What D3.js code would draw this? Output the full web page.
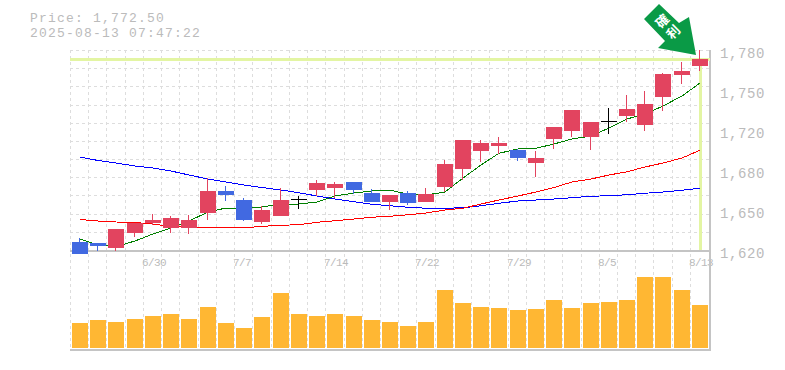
<!DOCTYPE html>
<html>
<head>
<meta charset="utf-8">
<script src="https://d3js.org/d3.v7.min.js"></script>
<style>
body{margin:0;background:#fff;}
text{font-family:"Liberation Mono",monospace;fill:#bbb;}
</style>
</head>
<body>
  <div id="my_dataviz"></div>
  <script>
    var opens  = [1626.4,1625.6,1621.6,1633.6,1641.6,1637.6,1637.6,1649.6,1667.2,1660,1642.4,1647.2,1660.8,1668,1669.6,1674.4,1665.6,1658.4,1665.6,1658.4,1670.4,1684.8,1699.2,1703.2,1700,1689.6,1708.8,1715.2,1710.4,1723.2,1727.2,1720,1742.4,1760,1767.2];
    var highs  = [1629.6,1625.6,1636.8,1641.6,1648.8,1647.2,1648,1677.6,1671.2,1661.6,1655.2,1669.6,1663.2,1676,1674.4,1674.4,1668.8,1664,1667.2,1669.6,1692,1708,1708,1710.4,1700.8,1699.2,1718.4,1732,1722.4,1733.6,1744,1747.2,1761.6,1770.4,1780];
    var lows   = [1616.8,1619.2,1619.2,1630.4,1640,1633.6,1632.8,1644,1659.2,1643.2,1640.8,1647.2,1652.8,1663.2,1661.6,1664.8,1658.4,1652,1656,1658.4,1666.4,1676,1690.4,1696.8,1691.2,1678.4,1700.8,1710.4,1700,1712.8,1722.4,1715.2,1731.2,1752.8,1763.2];
    var closes = [1616.8,1623.2,1636.8,1641.6,1644,1645.6,1644,1667.2,1664,1644,1652,1660,1660.8,1673.6,1672.8,1668,1658.4,1664,1657.6,1664.8,1688.8,1708,1705.6,1705.6,1693.6,1693.6,1718.4,1732,1722.4,1723.2,1732.8,1736.8,1760.8,1763.2,1772.5];
    var volumes = [25,28,26,29,32,34,29,41,25,20,31,55,34,32,34,32,28,26,22,26,58,45,41,40,38,39,48,40,45,46,48,71,71,58,43];

    var maShort = [1628.8,1624,1622.8,1627.2,1632.8,1637.6,1643.2,1650.4,1653.6,1653.6,1654.4,1656.8,1656.8,1658.4,1663.2,1665.6,1667.2,1667.8,1664.8,1664,1666.4,1677.6,1688,1697.4,1700.8,1701.4,1704.8,1708.8,1711.2,1717.6,1724.8,1728.8,1735.2,1743.2,1753.6];
    var maMid   = [1644.4,1643.2,1642.4,1642,1640.8,1638.6,1638.4,1637.8,1637.8,1637.8,1638.9,1639.8,1640.2,1642.2,1643.4,1644.8,1646.2,1647,1648.2,1649.6,1652,1653.4,1656.8,1660,1663.2,1666.4,1670,1674.4,1676.8,1680,1682.6,1686.4,1689.6,1693.6,1699.8];
    var maLong  = [1694.4,1691.6,1689.6,1687.2,1685.6,1683.2,1680,1676.8,1674.4,1672,1670,1668,1665.8,1663.2,1660.8,1658.6,1656.6,1655.4,1654.2,1653.4,1653.4,1653.8,1655.4,1657.4,1659.2,1660,1660.8,1661.8,1663,1663.4,1664.2,1665.4,1666.4,1667.8,1669.4];

    var priceTicks = [1620,1652,1684,1716,1748,1780];
    var dateLabels = [[4,"6/30"],[9,"7/7"],[14,"7/14"],[19,"7/22"],[24,"7/29"],[29,"8/5"],[34,"8/13"]];
    var lastPrice = 1772.5;
    var headerLines = ["Price: 1,772.50","2025-08-13 07:47:22"];
    var arrowChars = ["確","利"];

    var width = 785, height = 370;
    var left = 70, right = 710, top_ = 50, mid = 250, volBase = 348, bottom = 350;
    var barW = 16;

    var svg = d3.select("#my_dataviz")
      .append("svg")
      .attr("width", width)
      .attr("height", height)
      .style("display","block");

    // x is the left edge of a slot, the bar sits 2px inside it
    var x = d3.scaleLinear().domain([0,35]).range([left,708.2]);
    var y = d3.scaleLinear().domain([1620,1780]).range([mid,top_]);
    var yVol = d3.scaleLinear().domain([0,100]).range([volBase,volBase-100]);
    function cx(i){ return Math.round(x(i))+10; }

    var grid = svg.append("g")
      .attr("shape-rendering","crispEdges")
      .attr("stroke","#ddd")
      .attr("stroke-dasharray","3,3");

    grid.selectAll(".vg").data(d3.range(0,35)).enter().append("line")
      .attr("x1",function(d){return Math.round(x(d))+0.5;})
      .attr("x2",function(d){return Math.round(x(d))+0.5;})
      .attr("y1",top_).attr("y2",bottom);

    grid.selectAll(".hg").data(d3.range(0,11)).enter().append("line")
      .attr("x1",left).attr("x2",right)
      .attr("y1",function(d){return Math.round(top_+d*200/11)+0.5;})
      .attr("y2",function(d){return Math.round(top_+d*200/11)+0.5;});

    // date labels
    svg.append("g").selectAll("text").data(dateLabels).enter().append("text")
      .attr("x",function(d){return cx(d[0])-11;})
      .attr("y",266)
      .attr("font-size",11)
      .attr("letter-spacing",-0.6)
      .text(function(d){return d[1];});

    // volume
    svg.append("g").attr("shape-rendering","crispEdges")
      .selectAll("rect").data(volumes).enter().append("rect")
      .attr("x",function(d,i){return cx(i)-barW/2;})
      .attr("width",barW)
      .attr("y",function(d){return yVol(d);})
      .attr("height",function(d){return volBase-yVol(d);})
      .attr("fill","#ffb733");

    // frame
    var frame = svg.append("g").attr("shape-rendering","crispEdges").attr("stroke","#c4c4c4").attr("stroke-width",2);
    frame.append("line").attr("x1",left).attr("x2",right+1).attr("y1",mid+1).attr("y2",mid+1);
    frame.append("line").attr("x1",left).attr("x2",right+1).attr("y1",bottom).attr("y2",bottom);
    frame.append("line").attr("x1",right).attr("x2",right).attr("y1",top_).attr("y2",bottom);

    // last price marker
    svg.append("line").attr("x1",left).attr("x2",right).attr("y1",y(lastPrice)).attr("y2",y(lastPrice))
      .attr("stroke","#e3f5a3").attr("stroke-width",3).attr("shape-rendering","crispEdges");
    svg.append("line").attr("x1",cx(34)).attr("x2",cx(34)).attr("y1",y(lastPrice)).attr("y2",mid)
      .attr("stroke","#e3f5a3").attr("stroke-width",3).attr("shape-rendering","crispEdges");

    // moving averages
    var line = d3.line().x(function(d,i){return cx(i);}).y(function(d){return y(d);});
    [[maLong,"#0000ff"],[maMid,"#ff0000"],[maShort,"#008000"]].forEach(function(s){
      svg.append("path").datum(s[0]).attr("d",line).attr("fill","none").attr("stroke",s[1])
        .attr("stroke-width",1).attr("shape-rendering","crispEdges");
    });

    // candles
    function candleColor(i){
      if (closes[i]==opens[i]) return "#000";
      return closes[i]>opens[i] ? "#e2445f" : "#4169e1";
    }
    var candle = svg.append("g").attr("shape-rendering","crispEdges")
      .selectAll("g").data(opens).enter().append("g");
    candle.append("line")
      .attr("x1",function(d,i){return cx(i)-0.5;})
      .attr("x2",function(d,i){return cx(i)-0.5;})
      .attr("y1",function(d,i){return y(highs[i]);})
      .attr("y2",function(d,i){return y(lows[i]);})
      .attr("stroke",function(d,i){return candleColor(i);});
    candle.append("rect")
      .attr("x",function(d,i){return cx(i)-barW/2;})
      .attr("width",barW)
      .attr("y",function(d,i){return y(Math.max(opens[i],closes[i]));})
      .attr("height",function(d,i){return Math.max(1,Math.abs(y(opens[i])-y(closes[i])));})
      .attr("fill",function(d,i){return candleColor(i);});

    // price axis
    var yAxis = d3.axisRight(y).tickValues(priceTicks).tickSize(0).tickPadding(10)
      .tickFormat(function(d){ return d3.format(",")(Math.round(d/10)*10); });
    var ag = svg.append("g").attr("transform","translate(710,3)").call(yAxis);
    ag.select(".domain").remove();
    ag.selectAll("text").attr("font-size",14).attr("letter-spacing",0.6)
      .attr("font-family",'"Liberation Mono",monospace').attr("fill","#bbb");

    // header
    svg.append("g").selectAll("text").data(headerLines).enter().append("text")
      .attr("x",30)
      .attr("y",function(d,i){return 22+i*15;})
      .attr("font-size",13)
      .attr("letter-spacing",1.2)
      .text(function(d){return d;});

    // arrow
    var arrow = svg.append("g");
    arrow.append("path")
      .attr("d","M659,4 L679,23 L689,17 L696,55 L658,48 L665,41 L644,19 Z")
      .attr("fill","#0a9a46");
    arrow.selectAll("text").data(arrowChars).enter().append("text")
      .attr("transform",function(d,i){return "translate("+(662+i*11)+","+(21+i*11)+") rotate(-45)";})
      .attr("text-anchor","middle")
      .attr("dy","0.38em")
      .attr("font-size",13)
      .attr("font-weight","bold")
      .style("font-family",'"Noto Sans CJK JP",sans-serif')
      .style("fill","#fff")
      .text(function(d){return d;});
  </script>
</body>
</html>
